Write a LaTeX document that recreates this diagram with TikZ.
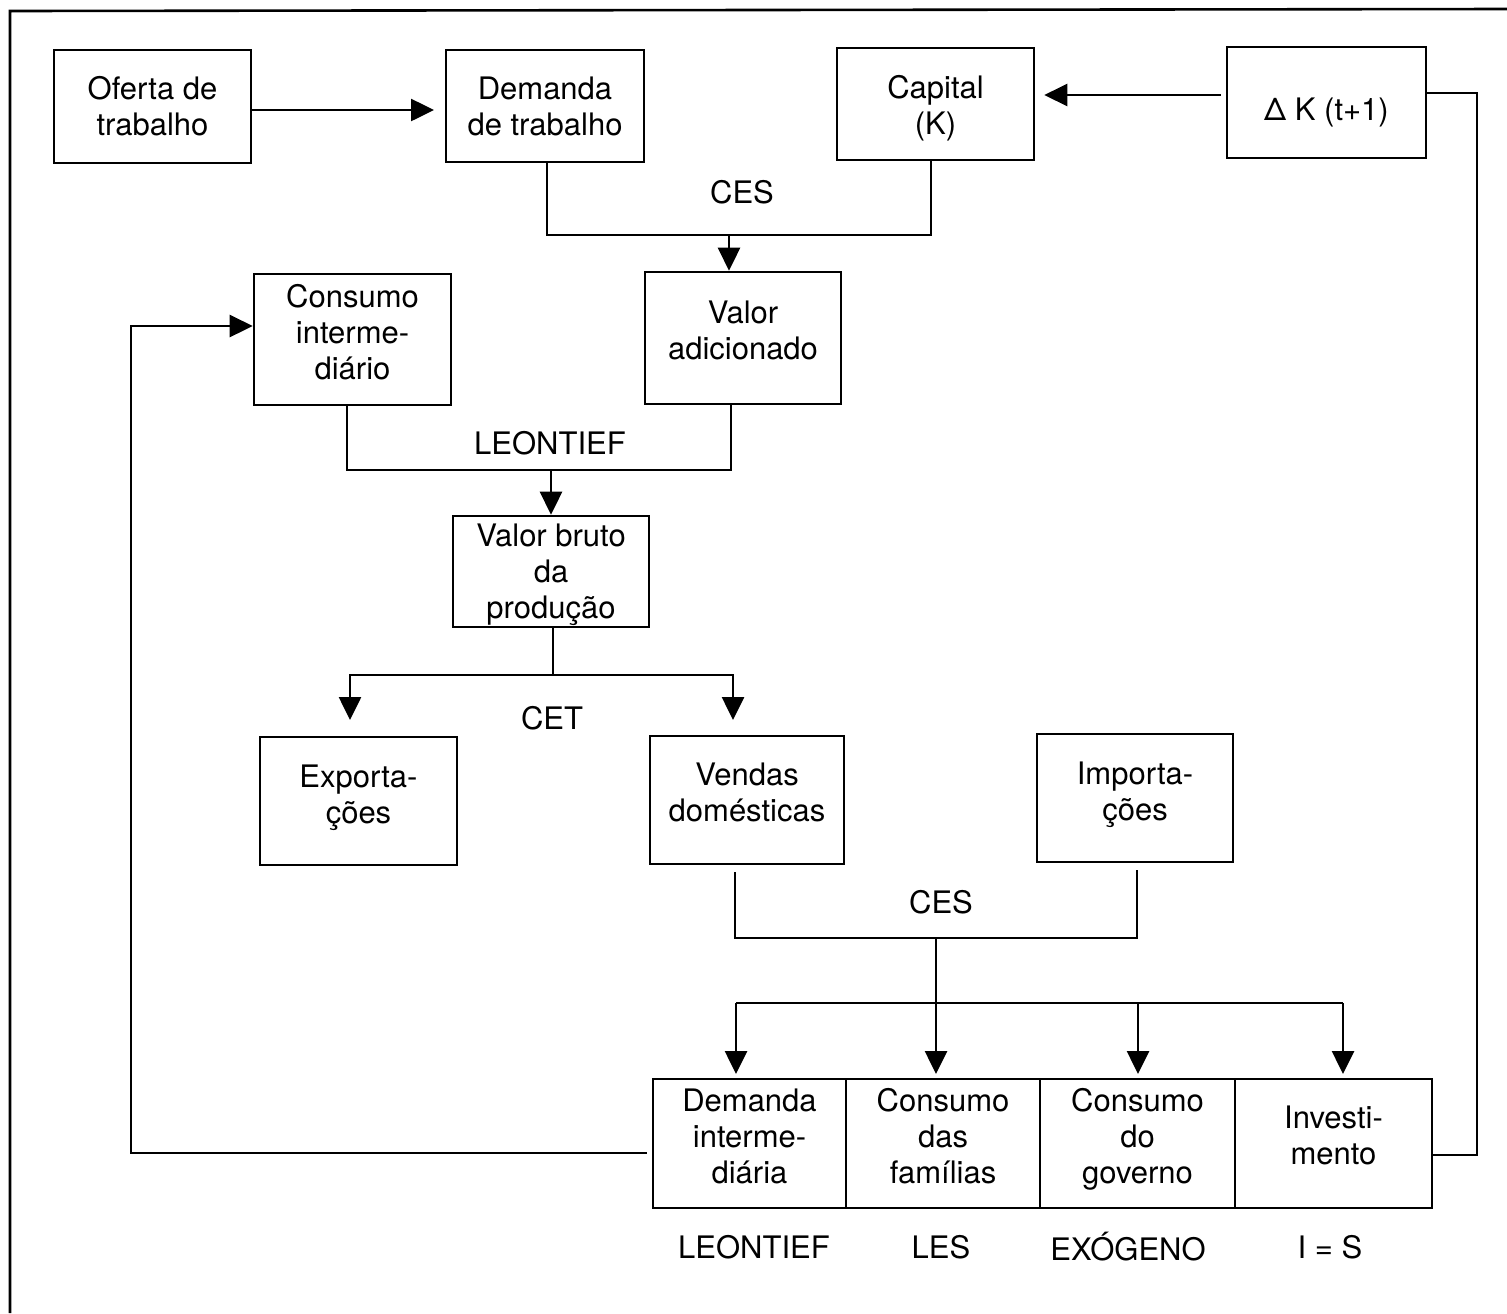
\documentclass[tikz,border=0pt]{standalone}
\usepackage{fontspec}
\setmainfont{TeX Gyre Heros}
\usetikzlibrary{arrows.meta}
\begin{document}
\begin{tikzpicture}[x=0.5pt,y=-0.5pt,
  ln/.style={line width=1.3pt},
  arr/.style={ln,-{Triangle[length=11.5pt,width=11pt]}},
  box/.style={draw,line width=1.3pt,inner sep=0pt,align=center,font=\fontsize{15.5}{18}\selectfont},
  lbl/.style={inner sep=0pt,font=\fontsize{15.5}{18}\selectfont}]
\useasboundingbox (0,0) rectangle (1507,1313);
% frame (top and left edges)
\draw[ln] (10,1313) -- (10,11) -- (1507,9);

% top row
\node[box,minimum width=98.5pt,minimum height=56.5pt] (of) at (152.5,106.5) {Oferta de\\trabalho};
\node[box,minimum width=99pt,minimum height=56pt] (dt) at (545,106) {Demanda\\de trabalho};
\node[box,minimum width=98.5pt,minimum height=56pt,text height=30pt,text depth=0pt] (cap) at (935.5,104) {Capital\\(K)};
\node[box,minimum width=99.5pt,minimum height=55.5pt,text height=17.6pt,text depth=0pt] (dk) at (1326.5,102.5) {Δ K (t+1)};

% second row
\node[box,minimum width=98.5pt,minimum height=65.5pt,text depth=7.5pt] (ci) at (352.5,339.5) {Consumo\\interme-\\diário};
\node[box,minimum width=98pt,minimum height=66pt,text depth=7.5pt] (va) at (743,338) {Valor\\adicionado};

% production
\node[box,minimum width=98pt,minimum height=55.5pt,text depth=-1.3pt] (vb) at (551,571.5) {Valor bruto\\da\\produção};

% third row
\node[box,minimum width=98.5pt,minimum height=64pt,text depth=7pt] (ex) at (358.5,801) {Exporta-\\ções};
\node[box,minimum width=97pt,minimum height=64pt,text depth=8pt] (vd) at (747,800) {Vendas\\domésticas};
\node[box,minimum width=98pt,minimum height=64pt,text depth=6.5pt] (im) at (1135,798) {Importa-\\ções};

% bottom row
\node[box,minimum width=96.5pt,minimum height=64.5pt,text depth=7.5pt] (di) at (749.5,1143.5) {Demanda\\interme-\\diária};
\node[box,minimum width=97pt,minimum height=64.5pt,text depth=7.5pt] (cf) at (943,1143.5) {Consumo\\das\\famílias};
\node[box,minimum width=97.5pt,minimum height=64.5pt,text depth=7.7pt] (cg) at (1137.5,1143.5) {Consumo\\do\\governo};
\node[box,minimum width=98.5pt,minimum height=64.5pt,text depth=8pt] (inv) at (1333.5,1143.5) {Investi-\\mento};

% labels
\node[lbl] (l1) at (742,192) {CES};
\node[lbl] (l2) at (550,443) {LEONTIEF};
\node[lbl] (l3) at (552,718) {CET};
\node[lbl] (l4) at (941,902) {CES};
\node[lbl] (b1) at (754,1247) {LEONTIEF};
\node[lbl] (b2) at (941,1247) {LES};
\node[lbl] (b3) at (1128,1247) {EXÓGENO};
\node[lbl] (b4) at (1330,1247) {I = S};

% top arrows
\draw[arr] (of.east |- 0,110) -- (434,110) coordinate (t1);
\draw[arr,shorten >=4.5pt] ([xshift=-2.5pt]dk.west |- 0,95) -- (cap.east |- 0,95);

% CES (labour + capital)
\coordinate (j1) at (729,235);
\draw[ln] ([xshift=1pt]dt.south) |- (j1) -| ([xshift=-2.25pt]cap.south);
\draw[arr] (j1) -- (j1 |- va.north);

% LEONTIEF
\coordinate (j2) at (551,470);
\draw[ln] ([xshift=-2.75pt]ci.south) |- (j2) -| ([xshift=-6pt]va.south);
\draw[arr] (j2) -- (j2 |- vb.north);

% CET
\coordinate (j3) at (553,675);
\coordinate (cl) at (350,675);
\coordinate (cr) at (733,675);
\coordinate (ce) at (350,720);
\coordinate (cv) at (733,720);
\draw[ln] ([xshift=1pt]vb.south) -- (j3);
\draw[arr] (j3) -- (cl) -- (ce);
\draw[arr] (j3) -- (cr) -- (cv);

% CES (domestic + imports)
\coordinate (j4) at (936,938);
\coordinate (v1) at (735,872);
\coordinate (i1) at (1137,870);
\draw[ln] (v1) |- (j4) -| (i1);

% distribution to final demand
\coordinate (j5) at (936,1003);
\coordinate (d1) at (736,1003);
\coordinate (d4) at (1343,1003);
\coordinate (d3) at (1138,1003);
\draw[ln] (j4) -- (j5);
\draw[ln] (d1) -- (d4);
\draw[arr] (d1) -- (d1 |- 0,1074);
\draw[arr] (j5) -- (j5 |- 0,1074);
\draw[arr] (d3) -- (d3 |- 0,1074);
\draw[arr] (d4) -- (d4 |- 0,1074);

% feedback: intermediate demand -> intermediate consumption
\coordinate (fa) at (131,1153);
\coordinate (fb) at (131,326);
\draw[arr] ([xshift=-2.5pt,yshift=-4.75pt]di.west) -- (fa) -- (fb) -- (ci.west |- fb);

% feedback: investment -> Delta K
\coordinate (ga) at (1477,1155);
\coordinate (gb) at (1477,93);
\draw[ln] (inv.east |- ga) -- (ga) -- (gb) -- (dk.east |- gb);
\end{tikzpicture}
\end{document}
